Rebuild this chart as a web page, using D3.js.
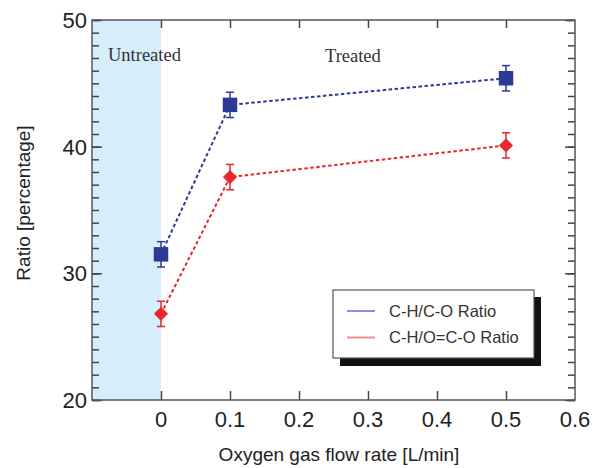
<!DOCTYPE html>
<html>
<head>
<meta charset="utf-8">
<script src="https://cdn.jsdelivr.net/npm/d3@7"></script>
<style>
  body { margin: 0; background: #fff; }
  text { font-family: "Liberation Sans", Arial, sans-serif; fill: #222; }
  .serif { font-family: "Liberation Serif", "Times New Roman", serif; fill: #333; }
</style>
</head>
<body>
<script>
// data
var flowRates = [0, 0.1, 0.5];
var chcoRatio = [31.5, 43.3, 45.4];
var chcoErr = [1.0, 1.0, 1.0];
var chocoRatio = [26.8, 37.6, 40.1];
var chocoErr = [1.0, 1.0, 1.0];
var seriesNames = ["C-H/C-O Ratio", "C-H/O=C-O Ratio"];
var xTicks = [0, 0.1, 0.2, 0.3, 0.4, 0.5, 0.6];
var yTicks = [20, 30, 40, 50];

var width = 594, height = 468;
var margin = {top: 20, right: 19, bottom: 68, left: 92};

var svg = d3.select("body").append("svg")
    .attr("width", width)
    .attr("height", height);

var x = d3.scaleLinear().domain([-0.1, 0.6]).range([margin.left, width - margin.right]);
var y = d3.scaleLinear().domain([20, 50]).range([height - margin.bottom, margin.top]);

// untreated shaded zone
svg.append("rect")
    .attr("x", x(-0.1))
    .attr("y", y(50))
    .attr("width", x(0) - x(-0.1))
    .attr("height", y(20) - y(50))
    .attr("fill", "#d5eef9");

// ticks (inward) via d3 axes
var minorY = d3.range(20, 51, 1);
function styleTicks(g) {
  g.select(".domain").remove();
  g.selectAll("line").attr("stroke", "#444").attr("stroke-width", 1.5);
}

svg.append("g")
    .attr("transform", "translate(" + x(-0.1) + ",0)")
    .call(d3.axisRight(y).tickValues(minorY).tickSize(7).tickFormat(""))
    .call(styleTicks);
svg.append("g")
    .attr("transform", "translate(" + x(-0.1) + ",0)")
    .call(d3.axisRight(y).tickValues(yTicks).tickSize(10).tickFormat(""))
    .call(styleTicks);
svg.append("g")
    .attr("transform", "translate(" + x(0.6) + ",0)")
    .call(d3.axisLeft(y).tickValues(minorY).tickSize(7).tickFormat(""))
    .call(styleTicks);
svg.append("g")
    .attr("transform", "translate(" + x(0.6) + ",0)")
    .call(d3.axisLeft(y).tickValues(yTicks).tickSize(10).tickFormat(""))
    .call(styleTicks);
svg.append("g")
    .attr("transform", "translate(0," + y(20) + ")")
    .call(d3.axisTop(x).tickValues(xTicks.slice(0, 6)).tickSize(9).tickFormat(""))
    .call(styleTicks);
svg.append("g")
    .attr("transform", "translate(0," + y(50) + ")")
    .call(d3.axisBottom(x).tickValues(xTicks.slice(0, 6)).tickSize(8).tickFormat(""))
    .call(styleTicks);

// frame
svg.append("rect")
    .attr("x", x(-0.1))
    .attr("y", y(50))
    .attr("width", x(0.6) - x(-0.1))
    .attr("height", y(20) - y(50))
    .attr("fill", "none")
    .attr("stroke", "#555")
    .attr("stroke-width", 1.5);

// tick labels
svg.selectAll(".ylab").data(yTicks).enter().append("text")
    .attr("x", x(-0.1) - 5)
    .attr("y", function(d){ return y(d); })
    .attr("dy", "0.36em")
    .attr("text-anchor", "end")
    .style("font-size", "22px")
    .text(function(d){ return d; });
svg.selectAll(".xlab").data(xTicks).enter().append("text")
    .attr("x", function(d){ return x(d); })
    .attr("y", 427)
    .attr("text-anchor", "middle")
    .style("font-size", "22px")
    .text(function(d){ return d; });

// axis titles
svg.append("text")
    .attr("transform", "translate(30,203) rotate(-90)")
    .attr("text-anchor", "middle")
    .style("font-size", "19px")
    .text("Ratio [percentage]");
svg.append("text")
    .attr("x", 339)
    .attr("y", 461)
    .attr("text-anchor", "middle")
    .style("font-size", "19px")
    .text("Oxygen gas flow rate [L/min]");

// zone labels
svg.append("text").attr("class", "serif")
    .attr("x", 108).attr("y", 61)
    .style("font-size", "18.5px")
    .text("Untreated");
svg.append("text").attr("class", "serif")
    .attr("x", 325).attr("y", 62)
    .style("font-size", "18.5px")
    .text("Treated");

function drawSeries(vals, errs, color, diamond) {
  var pts = flowRates.map(function(f, i){ return {x: f, y: vals[i], e: errs[i]}; });
  var line = d3.line().x(function(d){ return x(d.x); }).y(function(d){ return y(d.y); });
  svg.append("path")
      .attr("d", line(pts))
      .attr("fill", "none")
      .attr("stroke", color)
      .attr("stroke-width", 2)
      .attr("stroke-dasharray", "3.5,2.5");
  var g = svg.append("g").selectAll("g").data(pts).enter().append("g");
  g.append("line")
      .attr("x1", function(d){ return x(d.x); })
      .attr("x2", function(d){ return x(d.x); })
      .attr("y1", function(d){ return y(d.y + d.e); })
      .attr("y2", function(d){ return y(d.y - d.e); })
      .attr("stroke", color).attr("stroke-width", 1.5);
  [1, -1].forEach(function(s){
    g.append("line")
        .attr("x1", function(d){ return x(d.x) - 4; })
        .attr("x2", function(d){ return x(d.x) + 4; })
        .attr("y1", function(d){ return y(d.y + s * d.e); })
        .attr("y2", function(d){ return y(d.y + s * d.e); })
        .attr("stroke", color).attr("stroke-width", 1.5);
  });
  g.append("path")
      .attr("transform", function(d){
        return "translate(" + x(d.x) + "," + y(d.y) + ")" + (diamond ? " rotate(45)" : "");
      })
      .attr("d", d3.symbol().type(d3.symbolSquare).size(diamond ? 100 : 210))
      .attr("fill", color);
}

drawSeries(chcoRatio, chcoErr, "#2c3a97", false);
drawSeries(chocoRatio, chocoErr, "#e8272d", true);

// legend
var lg = svg.append("g");
lg.append("rect")
    .attr("x", 340).attr("y", 297).attr("width", 201).attr("height", 69)
    .attr("fill", "#111");
lg.append("rect")
    .attr("x", 333).attr("y", 290).attr("width", 201).attr("height", 68)
    .attr("fill", "#fff").attr("stroke", "#555").attr("stroke-width", 1.2);
var legColors = ["#8a8fe0", "#f28c8c"];
seriesNames.forEach(function(name, i){
  var ly = 311 + i * 26.5;
  lg.append("line")
      .attr("x1", 347).attr("x2", 375).attr("y1", ly).attr("y2", ly)
      .attr("stroke", legColors[i]).attr("stroke-width", 2);
  lg.append("text")
      .attr("x", 389).attr("y", ly)
      .attr("dy", "0.36em")
      .style("font-size", "16.5px")
      .style("fill", "#333")
      .text(name);
});
</script>
</body>
</html>
